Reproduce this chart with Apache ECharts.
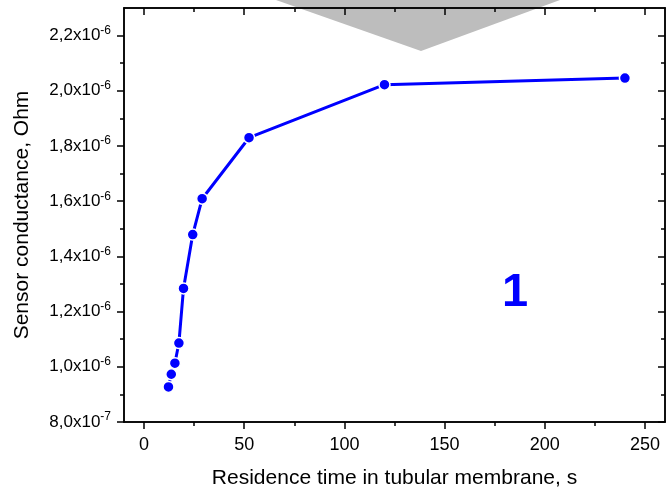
<!DOCTYPE html>
<html>
<head>
<meta charset="utf-8">
<script src="https://cdn.jsdelivr.net/npm/echarts@6/dist/echarts.min.js"></script>
<style>
  html, body { margin: 0; padding: 0; background: #fff; }
  #main { width: 666px; height: 494px; }
</style>
</head>
<body>
<div id="main"></div>
<script>
// data
var residenceTime = [12.2, 13.6, 15.4, 17.4, 19.7, 24.3, 29.0, 52.4, 120.0, 240.0];
var conductance = [0.927e-6, 0.973e-6, 1.013e-6, 1.086e-6, 1.284e-6, 1.479e-6, 1.609e-6, 1.830e-6, 2.022e-6, 2.046e-6];

// ticks
var xMajorTicks = [0, 50, 100, 150, 200, 250];
var xMinorTicks = [25, 75, 125, 175, 225];
var yMajorTicks = [0.8e-6, 1.0e-6, 1.2e-6, 1.4e-6, 1.6e-6, 1.8e-6, 2.0e-6, 2.2e-6];
var yMinorTicks = [0.9e-6, 1.1e-6, 1.3e-6, 1.5e-6, 1.7e-6, 1.9e-6, 2.1e-6];

var xMin = -10, xMax = 260;
var yMin = 0.8e-6, yMax = 2.3e-6;

var FONT = 'Liberation Sans';

var pts = residenceTime.map(function (t, i) { return [t, conductance[i]]; });

// 2,2x10^-6 style label
function sciLabel(v) {
    var exp = v < 0.99e-6 ? -7 : -6;
    var m = (v / Math.pow(10, exp)).toFixed(1).replace('.', ',');
    return '{a|' + m + 'x10}{b|' + exp + '}';
}

function xAx(pos, ticks, len, inside, extra) {
    var o = {
        type: 'value', position: pos, min: xMin, max: xMax,
        axisLine: { show: true, onZero: false, lineStyle: { color: '#000', width: 1.5 } },
        axisTick: { show: true, inside: inside, length: len, customValues: ticks, lineStyle: { color: '#000', width: 1.5 } },
        axisLabel: { show: false },
        splitLine: { show: false }
    };
    return Object.assign(o, extra || {});
}
function yAx(pos, ticks, len, inside, extra) {
    var o = {
        type: 'value', position: pos, min: yMin, max: yMax,
        axisLine: { show: true, onZero: false, lineStyle: { color: '#000', width: 1.5 } },
        axisTick: { show: true, inside: inside, length: len, customValues: ticks, lineStyle: { color: '#000', width: 1.5 } },
        axisLabel: { show: false },
        splitLine: { show: false }
    };
    return Object.assign(o, extra || {});
}

var chart = echarts.init(document.getElementById('main'));

chart.setOption({
    animation: false,
    backgroundColor: '#fff',
    grid: { left: 124, right: 1, top: 8, bottom: 72 },
    xAxis: [
        xAx('bottom', xMajorTicks, 7, false, {
            axisLabel: { show: true, customValues: xMajorTicks, margin: 14, color: '#000', fontSize: 18, fontFamily: FONT },
            name: 'Residence time in tubular membrane, s',
            nameLocation: 'middle', nameGap: 46,
            nameTextStyle: { color: '#000', fontSize: 21, fontFamily: FONT }
        }),
        xAx('bottom', xMinorTicks, 4, false),
        xAx('top', xMajorTicks, 7, true),
        xAx('top', xMinorTicks, 4, true)
    ],
    yAxis: [
        yAx('left', yMajorTicks, 7, false, {
            axisLabel: {
                show: true, customValues: yMajorTicks, margin: 13,
                formatter: sciLabel,
                rich: {
                    a: { color: '#000', fontSize: 17, fontFamily: FONT },
                    b: { color: '#000', fontSize: 12, fontFamily: FONT, padding: [0, 0, 10, 0] }
                }
            },
            name: 'Sensor conductance, Ohm',
            nameLocation: 'middle', nameGap: 91,
            nameTextStyle: { color: '#000', fontSize: 21, fontFamily: FONT }
        }),
        yAx('left', yMinorTicks, 4, false),
        yAx('right', yMajorTicks, 7, true),
        yAx('right', yMinorTicks, 4, true)
    ],
    graphic: [
        {
            type: 'polygon', z: -10, silent: true,
            shape: { points: [[276, 0], [560, 0], [421, 51]] },
            style: { fill: '#bdbdbd' }
        },
        {
            type: 'text', left: 502, top: 270,
            style: { text: '1', fill: '#0000ff', font: 'bold 47px "Liberation Sans"' }
        }
    ],
    series: [{
        type: 'line',
        xAxisIndex: 0, yAxisIndex: 0,
        data: pts,
        symbol: 'circle', symbolSize: 11,
        lineStyle: { color: '#0000ff', width: 3 },
        itemStyle: { color: '#0000ff', borderColor: '#fff', borderWidth: 1.5 }
    }]
});
</script>
</body>
</html>
